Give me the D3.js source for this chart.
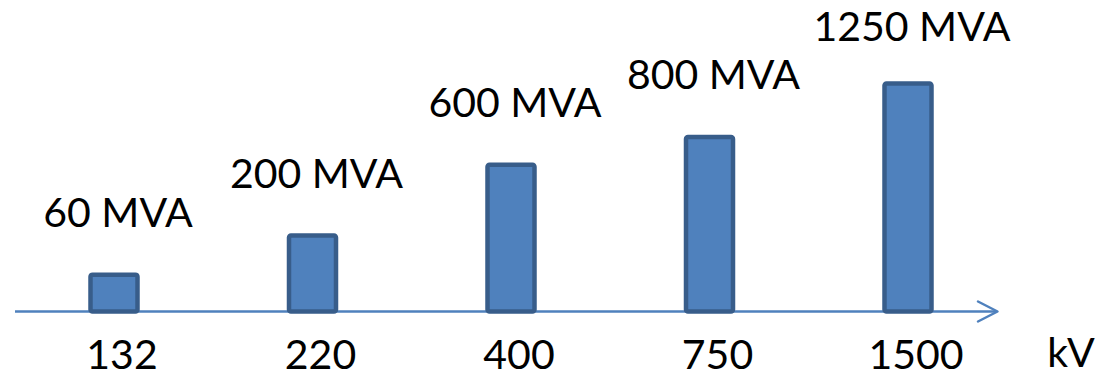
<!DOCTYPE html>
<html>
<head>
<meta charset="utf-8">
<script src="https://cdn.jsdelivr.net/npm/d3@7"></script>
<style>
  html, body { margin: 0; padding: 0; background: #ffffff; }
  svg { display: block; }
  text { font-family: Lato, "Open Sans", sans-serif; fill: #000; }
</style>
</head>
<body>
<svg id="chart" width="1105" height="378"></svg>
<script>
// Voltage levels (kV) along the axis
const voltageLevels = ["132", "220", "400", "750", "1500"];
// Transmission capacity per voltage level (MVA)
const capacityMVA = [60, 200, 600, 800, 1250];
// Unit shown at the end of the axis
const axisUnit = "kV";

const axisY = 311.5;
const svg = d3.select("#chart");

const x = d3.scalePoint()
  .domain(voltageLevels)
  .range([114, 908]);

// Bar heights grow sub-linearly with capacity
const y = d3.scalePow()
  .exponent(0.6)
  .domain([0, 1250])
  .range([axisY, axisY - 228]);

const barW = 47;
const blue = "#4F81BD";
const border = "#385D8A";
const fontSize = 41;

// Axis line with an open arrowhead
const axisG = svg.append("g");
axisG.append("line")
  .attr("x1", 15).attr("x2", 997)
  .attr("y1", axisY).attr("y2", axisY)
  .attr("stroke", blue).attr("stroke-width", 2.5);
axisG.append("path")
  .attr("d", d3.line()([[978, axisY - 10], [997.5, axisY], [978, axisY + 10]]))
  .attr("fill", "none")
  .attr("stroke", blue).attr("stroke-width", 2.5)
  .attr("stroke-linecap", "round").attr("stroke-linejoin", "round");

const data = voltageLevels.map((v, i) => ({ kv: v, mva: capacityMVA[i] }));

// Bars
svg.append("g").selectAll("rect")
  .data(data)
  .join("rect")
  .attr("x", d => x(d.kv) - barW / 2)
  .attr("width", barW)
  .attr("y", d => y(d.mva))
  .attr("height", d => axisY - y(d.mva))
  .attr("rx", 2)
  .attr("fill", blue)
  .attr("stroke", border)
  .attr("stroke-width", 4.5);

// Capacity labels above the bars, kept inside the top edge
svg.append("g").selectAll("text")
  .data(data)
  .join("text")
  .attr("text-anchor", "middle")
  .attr("font-size", fontSize)
  .attr("x", d => x(d.kv) + 4)
  .attr("y", d => Math.max(y(d.mva) - 48, 41))
  .text(d => `${d.mva} MVA`);

// Voltage tick labels below the axis
svg.append("g").selectAll("text")
  .data(voltageLevels)
  .join("text")
  .attr("text-anchor", "middle")
  .attr("font-size", fontSize)
  .attr("x", d => x(d) + 8)
  .attr("y", 369)
  .text(d => d);

svg.append("text")
  .attr("text-anchor", "middle")
  .attr("font-size", fontSize)
  .attr("x", 1071)
  .attr("y", 367)
  .text(axisUnit);
</script>
</body>
</html>
